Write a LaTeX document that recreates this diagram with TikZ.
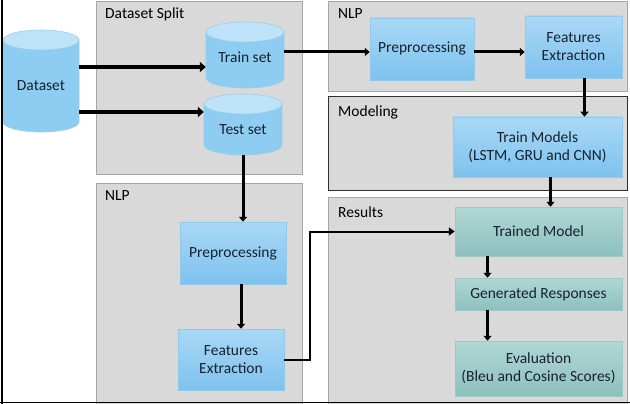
\documentclass[tikz,border=0pt]{standalone}
\usepackage{fontspec}
\setmainfont{Carlito}
\usetikzlibrary{arrows.meta,calc}
\definecolor{panelfill}{HTML}{D9D9D9}
\definecolor{panelline}{HTML}{A6A6A6}
\definecolor{darkline}{HTML}{303030}
\definecolor{bluetop}{HTML}{A9D8F6}
\definecolor{bluebot}{HTML}{7EC2EE}
\definecolor{blueline}{HTML}{93C8E8}
\definecolor{tealtop}{HTML}{B0D7D4}
\definecolor{tealbot}{HTML}{8DC0BD}
\definecolor{tealline}{HTML}{9FC8C5}
\definecolor{cylbody}{HTML}{8FCCF1}
\definecolor{cyltop}{HTML}{BEE3F8}
\definecolor{cylline}{HTML}{9ACDEC}
\definecolor{txt}{HTML}{16222F}
\newcommand\dbcyl[5]{%
  \path[fill=cylbody, draw=cylline, line width=0.6pt] ({#1-#2},{#3+#5}) -- ({#1-#2},{#4-#5})
    arc[start angle=180,end angle=360,x radius=#2pt,y radius=#5pt] -- ({#1+#2},{#3+#5}) -- cycle;
  \path[fill=cyltop, draw=cylline, line width=0.6pt] (#1,{#3+#5}) ellipse[x radius=#2pt, y radius=#5pt];}
\begin{document}
\begin{tikzpicture}[x=1pt,y=-1pt,
  panel/.style={draw=panelline, fill=panelfill, line width=0.8pt},
  darkpanel/.style={draw=darkline, fill=panelfill, line width=1pt},
  plabel/.style={anchor=west, inner sep=0, text=black, font=\fontsize{15.5}{18}\selectfont},
  boxtext/.style={inner sep=0, align=center, text=txt, font=\fontsize{15.5}{18}\selectfont},
  bluebox/.style={boxtext, draw=blueline, line width=0.5pt, top color=bluetop, bottom color=bluebot},
  tealbox/.style={boxtext, draw=tealline, line width=0.5pt, top color=tealtop, bottom color=tealbot},
  cylnode/.style={boxtext, text depth=0pt},
  arr/.style={line width=3.5pt, -{Triangle[length=6pt,width=10pt]}},
  varr/.style={line width=3pt, -{Triangle[length=5pt,width=8pt]}},
  conn/.style={line width=2pt, -{Triangle[length=6pt,width=8pt]}}
]
\useasboundingbox (0,0) rectangle (630,404);
% panels
\path[panel] (96,1) rectangle (302,174);
\path[panel] (328,1) rectangle (627,91);
\path[darkpanel] (328,97) rectangle (627,190);
\path[panel] (96,183) rectangle (302,406);
\path[panel] (328,197) rectangle (627,406);
\node[plabel] (lsplit) at (105,14) {Dataset Split};
\node[plabel] (lnlp1) at (338,14) {NLP};
\node[plabel] (lmod) at (338,112) {Modeling};
\node[plabel] (lnlp2) at (105,196) {NLP};
\node[plabel] (lres) at (338,212) {Results};
% cylinders
\dbcyl{41}{38}{30}{132}{10}
\dbcyl{245}{39}{22}{88}{10}
\dbcyl{243}{39}{94}{155}{10}
\node[cylnode, text height=20pt, minimum width=76pt, minimum height=102pt] (ds) at (41,81) {Dataset};
\node[cylnode, text height=16pt, minimum width=78pt, minimum height=66pt] (tr) at (245,55) {Train set};
\node[cylnode, text height=21pt, minimum width=78pt, minimum height=61pt] (ts) at (243,124.5) {Test set};
% boxes
\node[bluebox, minimum width=104pt, minimum height=62pt] (pp1) at (422,49) {Preprocessing};
\node[bluebox, minimum width=97pt, minimum height=62pt] (fe1) at (573.5,47) {Features\\Extraction};
\node[bluebox, minimum width=169pt, minimum height=60pt] (tm) at (537.5,147) {Train Models\\(LSTM, GRU and CNN)};
\node[bluebox, minimum width=106pt, minimum height=62pt] (pp2) at (233,253) {Preprocessing};
\node[bluebox, minimum width=106pt, minimum height=61pt] (fe2) at (231,359.5) {Features\\Extraction};
\node[tealbox, minimum width=167pt, minimum height=49pt] (trm) at (538.5,231.5) {Trained Model};
\node[tealbox, minimum width=167pt, minimum height=32pt] (gr) at (538.5,294) {Generated Responses};
\node[tealbox, minimum width=167pt, minimum height=55pt] (ev) at (538.5,368.5) {Evaluation\\(Bleu and Cosine Scores)};
% connectors
\draw[arr] ([yshift=14pt]ds.east) -- ([yshift=-12pt]tr.west);
\draw[arr] ([yshift=-31pt]ds.east) -- ([yshift=12.5pt]ts.west);
\draw[varr] ([yshift=-3pt]pp1.west -| tr.east) -- ([yshift=-3pt]pp1.west);
\draw[varr] ([yshift=-3pt]pp1.east) -- ([yshift=-3pt]fe1.west |- pp1.east);
\draw[varr] ([xshift=11pt]fe1.south) -- ([xshift=11pt]fe1.south |- tm.north);
\draw[varr] ([xshift=13pt]tm.south) -- ([xshift=13pt]tm.south |- trm.north);
\draw[varr] (ts.south) -- (ts.south |- pp2.north);
\draw[varr] ([xshift=8pt]pp2.south) -- ([xshift=8pt]pp2.south |- fe2.north);
\draw[conn] (fe2.east) -- ++(26,0) |- (trm.west);
\draw[varr] ([xshift=-51pt]trm.south) -- ([xshift=-51pt]trm.south |- gr.north);
\draw[varr] ([xshift=-51pt]gr.south) -- ([xshift=-51pt]gr.south |- ev.north);
% frame
\draw[line width=2pt] (1.5,0) -- (1.5,404);
\draw[line width=1.5pt] (0,402.7) -- (630,402.7);
\end{tikzpicture}
\end{document}
